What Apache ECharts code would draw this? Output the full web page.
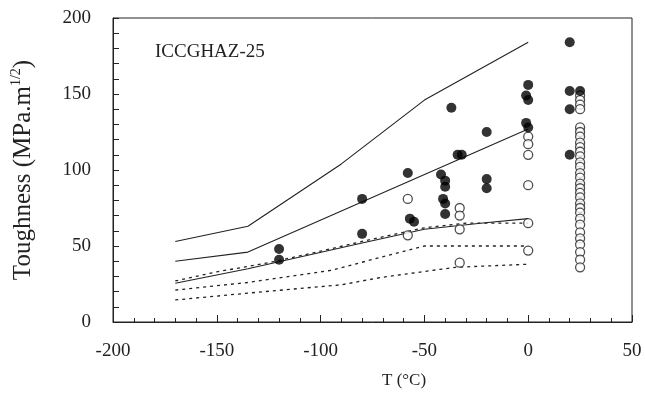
<!DOCTYPE html>
<html>
<head>
<meta charset="utf-8">
<script src="https://cdn.jsdelivr.net/npm/echarts@6/dist/echarts.min.js"></script>
<style>html,body{margin:0;padding:0;background:#fff}#c{width:645px;height:410px}</style>
</head>
<body>
<div id="c"></div>
<script>
// ---- data (T in °C, toughness in MPa.m^1/2) ----
var xTicks = [-200, -150, -100, -50, 0, 50];
var yTicks = [0, 50, 100, 150, 200];

var upperSolid = [[-170,53],[-135,63],[-90,104],[-50,146],[0,184]];
var middleSolid = [[-170,40],[-135,46],[0,127]];
var lowerSolid = [[-170,25.5],[-135,35],[-80,52],[-50,61],[-23,65],[0,68]];

var upperDotted = [[-170,27],[-150,33],[-125,39],[-105,45],[-80,53],[-50,62],[-30,65],[0,65]];
var middleDotted = [[-170,21],[-135,26],[-95,34],[-50,50],[0,50]];
var lowerDotted = [[-170,14.5],[-135,19],[-90,24.5],[-70,29.5],[-35,36],[0,38]];

var filledPts = [[-120,48],[-120,41],[-80,81],[-80,58],[-58,98],[-57,68],[-55,66],
  [-37,141],[-34,110],[-32,110],[-42,97],[-40,93],[-40,89],[-41,81],[-40,78],[-40,71],
  [-20,125],[-20,94],[-20,88],[0,156],[-1,149],[0,146],[-1,131],[0,128],
  [20,184],[20,152],[25,152],[20,140],[20,110]];

var openPts = [[-58,81],[-58,57],[-33,75],[-33,70],[-33,61],[-33,39],
  [0,122],[0,117],[0,110],[0,90],[0,65],[0,47],
  [25,149],[25,146],[25,143],[25,140],[25,128],[25,125],[25,122],[25,118],[25,115],
  [25,112],[25,109],[25,105],[25,102],[25,98],[25,95],[25,91],[25,88],[25,85],[25,82],
  [25,78],[25,75],[25,72],[25,68],[25,64],[25,59],[25,55],[25,51],[25,46],[25,41],[25,36]];

var titleText = 'ICCGHAZ-25';
var xName = 'T (°C)';

// ---- chart ----
var FONT = '"Liberation Serif","DejaVu Serif",serif';
var INK = '#222';
var chart = echarts.init(document.getElementById('c'), null, {renderer: 'canvas'});

function lineSeries(data, dashed) {
  return {
    type: 'line', data: data, symbol: 'none', smooth: false, z: 2,
    lineStyle: {color: INK, width: dashed ? 1.3 : 1.1, type: dashed ? [3, 4] : 'solid'}
  };
}

var option = {
  animation: false,
  backgroundColor: '#fff',
  grid: {left: 113, right: 13, top: 18, bottom: 88, show: true, borderColor: INK, borderWidth: 1},
  xAxis: {
    type: 'value', min: -200, max: 50, interval: 50,
    axisLine: {onZero: false, lineStyle: {color: INK, width: 1}},
    axisTick: {show: true, inside: true, length: 7, lineStyle: {color: INK}},
    minorTick: {show: true, splitNumber: 5, length: 4, lineStyle: {color: INK}},
    splitLine: {show: false},
    axisLabel: {color: INK, fontFamily: FONT, fontSize: 19, margin: 20,
      customValues: xTicks},
  },
  yAxis: {
    type: 'value', min: 0, max: 200, interval: 50,
    axisLine: {show: true, onZero: false, lineStyle: {color: INK, width: 1}},
    axisTick: {show: true, inside: true, length: 6, lineStyle: {color: INK}},
    minorTick: {show: true, splitNumber: 5, length: 6, lineStyle: {color: INK}},
    splitLine: {show: false},
    axisLabel: {color: INK, fontFamily: FONT, fontSize: 19, margin: 22,
      customValues: yTicks},
    name: '{a|Toughness (MPa.m}{s|1/2}{a|)}',
    nameLocation: 'middle', nameRotate: 90, nameGap: 76,
    nameTextStyle: {
      rich: {
        a: {fontFamily: FONT, fontSize: 25, color: INK, lineHeight: 28},
        s: {fontFamily: FONT, fontSize: 14, color: INK, verticalAlign: 'top', lineHeight: 28, padding: [0, 0, 10, 0]}
      }
    }
  },
  graphic: [
    {type: 'text', left: 155, top: 43, style: {text: titleText, font: '19px ' + FONT, fill: INK}},
    {type: 'text', left: 382, top: 372, style: {text: xName, font: '17px ' + FONT, fill: INK}}
  ],
  series: [
    lineSeries(upperSolid, false),
    lineSeries(middleSolid, false),
    lineSeries(lowerSolid, false),
    lineSeries(upperDotted, true),
    lineSeries(middleDotted, true),
    lineSeries(lowerDotted, true),
    {type: 'scatter', data: openPts, symbol: 'circle', symbolSize: 9, z: 3,
      itemStyle: {color: '#fff', borderColor: INK, borderWidth: 1.3}},
    {type: 'scatter', data: filledPts, symbol: 'circle', symbolSize: 10, z: 4,
      itemStyle: {color: '#000'}}
  ]
};
chart.setOption(option);
</script>
</body>
</html>
